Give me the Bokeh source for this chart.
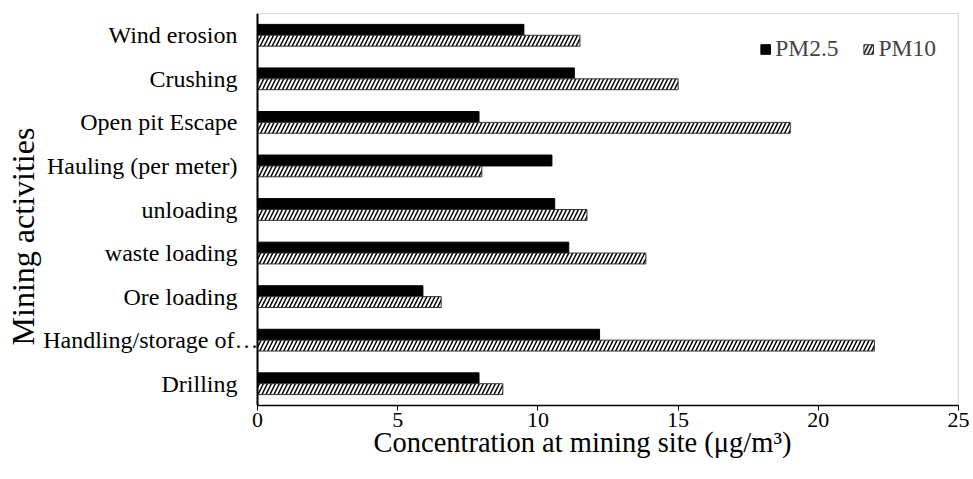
from bokeh.plotting import figure
from bokeh.models import (ColumnDataSource, Legend, LegendItem, Range1d, FactorRange,
                          SingleIntervalTicker, Label, Title, Span, BoxAnnotation)
from bokeh.core.properties import value
from bokeh.transform import dodge
from bokeh.embed import file_html
from bokeh.resources import INLINE

# Categories listed bottom -> top
activities = ["Drilling", "Handling/storage of\u2026", "Ore loading", "waste loading",
              "unloading", "Hauling (per meter)", "Open pit Escape", "Crushing", "Wind erosion"]
pm25 = [7.9, 12.2, 5.9, 11.1, 10.6, 10.5, 7.9, 11.3, 9.5]
pm10 = [8.75, 22.0, 6.55, 13.85, 11.75, 8.0, 19.0, 15.0, 11.5]
series_names = ["PM2.5", "PM10"]
x_title = "Concentration at mining site (\u03bcg/m\u00b3)"
y_title = "Mining activities"
x_max = 25

FONT = "Liberation Serif"

W, H = 973, 479
AXIS_PX = 257          # pixel where x = 0 sits
RIGHT_PAD = 15
frame_w = W - RIGHT_PAD
x_start = -x_max * AXIS_PX / (frame_w - AXIS_PX)

src = ColumnDataSource(dict(act=activities, pm25=pm25, pm10=pm10))
truncated = activities[1]
lab_src = ColumnDataSource(dict(act=[a for a in activities if a != truncated],
                                zero=[0] * (len(activities) - 1)))
trunc_src = ColumnDataSource(dict(act=[truncated], zero=[0]))

p = figure(width=W, height=H, y_range=FactorRange(*activities, range_padding=0),
           x_range=Range1d(x_start, x_max), output_backend="svg", toolbar_location=None,
           y_axis_location=None,
           min_border_left=0, min_border_right=RIGHT_PAD, min_border_top=13, min_border_bottom=74)

r1 = p.hbar(y=dodge("act", 0.125, range=p.y_range), right="pm25", left=0, height=0.25,
            source=src, fill_color="black", line_color="black", line_width=1)
r2 = p.hbar(y=dodge("act", -0.125, range=p.y_range), right="pm10", left=0, height=0.25,
            source=src, fill_color="white", line_color="#333333", line_width=1,
            hatch_pattern="/", hatch_color="black", hatch_weight=1.5, hatch_scale=8)

p.xgrid.visible = False
p.ygrid.visible = False
p.outline_line_color = None
p.background_fill_color = "white"
p.border_fill_color = "white"

# plot-area box and vertical axis line
p.add_layout(BoxAnnotation(left=0, right=x_max, fill_color=None, line_color="black",
                           line_width=1.2))
p.add_layout(Span(location=0, dimension="height", line_color="black", line_width=2))

# category labels
p.text(x="zero", y="act", text="act", source=lab_src, x_offset=-20,
       text_align="right", text_baseline="middle", text_font=value(FONT),
       text_font_size="24px", text_color="black")
p.text(x="zero", y="act", text="act", source=trunc_src, x_offset=1,
       text_align="right", text_baseline="middle", text_font=value(FONT),
       text_font_size="24px", text_color="black")

xa = p.xaxis[0]
xa.bounds = (0, x_max)
xa.ticker = SingleIntervalTicker(interval=5)
xa.minor_tick_line_color = None
xa.major_tick_in = 0
xa.major_tick_out = 5
xa.axis_line_width = 1.5
xa.major_label_text_font = FONT
xa.major_label_text_font_size = "22px"
xa.major_label_text_color = "black"
xa.major_label_standoff = 2

# x axis title (sits left of centre in the original)
p.add_layout(Title(text=x_title, align="left", offset=373, standoff=-10,
                   text_font=FONT, text_font_size="28.5px", text_font_style="normal",
                   text_color="black"), "below")

# y axis title
p.add_layout(Label(x=22, x_units="screen", y=405 - 236, y_units="screen", text=y_title,
                   angle=90, angle_units="deg", text_align="center", text_baseline="middle",
                   text_font=FONT, text_font_size="32px", text_color="black"))

legend = Legend(items=[LegendItem(label=series_names[0], renderers=[r1]),
                       LegendItem(label=series_names[1], renderers=[r2])],
                orientation="horizontal", location="top_right",
                label_text_font=FONT, label_text_font_size="23.5px",
                glyph_width=12, glyph_height=12, label_standoff=4, spacing=24,
                padding=0, margin=22, border_line_color=None, background_fill_alpha=0)
p.add_layout(legend)

open("out.html", "w").write(file_html(p, INLINE))
